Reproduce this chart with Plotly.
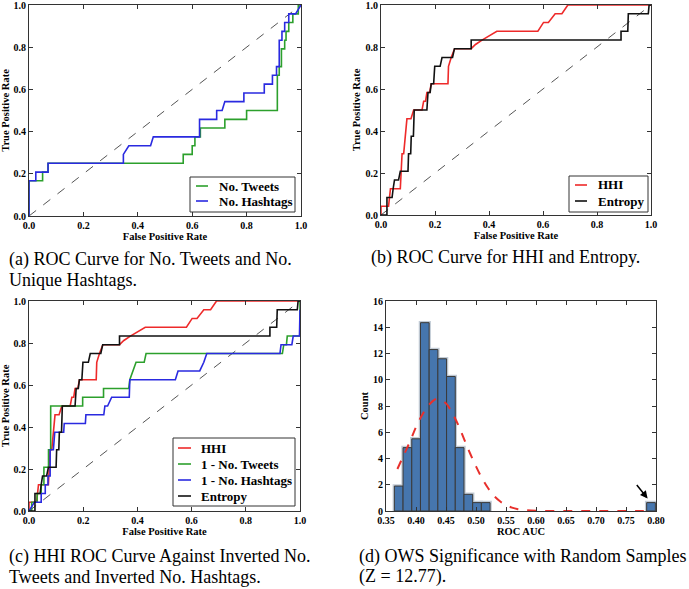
import plotly.graph_objects as go

W, H = 689, 589

# ---------------- data ----------------
chance = [0.0, 1.0]

# (a) ROC: No. Tweets (green) and No. Hashtags (blue)
a_tweets_fpr = [0, 0, 0.05, 0.05, 0.07, 0.07, 0.567, 0.567, 0.6, 0.6, 0.61, 0.61,
                0.63, 0.63, 0.72, 0.72, 0.8, 0.8, 0.913, 0.913, 0.92, 0.92, 0.928, 0.928,
                0.94, 0.94, 0.945, 0.945, 0.955, 0.955, 0.97, 0.97, 0.99, 0.99, 1.0]
a_tweets_tpr = [0, 0.167, 0.167, 0.208, 0.208, 0.25, 0.25, 0.292, 0.292, 0.333, 0.333, 0.375,
                0.375, 0.417, 0.417, 0.458, 0.458, 0.5, 0.5, 0.667, 0.667, 0.708, 0.708, 0.792,
                0.792, 0.833, 0.833, 0.875, 0.875, 0.917, 0.917, 0.958, 0.958, 1.0, 1.0]
a_hash_fpr = [0, 0, 0.025, 0.025, 0.07, 0.07, 0.347, 0.347, 0.367, 0.447, 0.457, 0.627,
              0.627, 0.69, 0.69, 0.71, 0.72, 0.79, 0.79, 0.865, 0.865, 0.895, 0.895, 0.91,
              0.91, 0.92, 0.92, 0.93, 0.93, 0.94, 0.94, 0.955, 0.955, 0.98, 1.0]
a_hash_tpr = [0, 0.167, 0.167, 0.208, 0.208, 0.25, 0.25, 0.292, 0.333, 0.333, 0.375, 0.375,
              0.458, 0.458, 0.5, 0.5, 0.542, 0.542, 0.583, 0.583, 0.625, 0.625, 0.667, 0.667,
              0.708, 0.708, 0.833, 0.833, 0.875, 0.875, 0.917, 0.917, 0.958, 0.958, 1.0]

# (b)/(c) ROC: HHI (red) and Entropy (black)
hhi_fpr = [0, 0, 0.028, 0.035, 0.0715, 0.078, 0.084, 0.0875, 0.096, 0.111, 0.121, 0.152,
           0.158, 0.165, 0.17, 0.18, 0.186, 0.248, 0.25, 0.26, 0.2725, 0.334, 0.35, 0.374,
           0.429, 0.581, 0.602, 0.62, 0.645, 0.67, 0.692, 1.0]
hhi_tpr = [0, 0.042, 0.042, 0.125, 0.125, 0.292, 0.292, 0.333, 0.458, 0.458, 0.5, 0.5,
           0.542, 0.542, 0.583, 0.583, 0.625, 0.625, 0.708, 0.75, 0.792, 0.792, 0.812, 0.833,
           0.875, 0.875, 0.917, 0.917, 0.958, 0.958, 1.0, 1.0]
ent_fpr = [0, 0.022, 0.022, 0.041, 0.045, 0.05, 0.065, 0.0715, 0.1, 0.102, 0.11, 0.112,
           0.12, 0.123, 0.17, 0.174, 0.182, 0.186, 0.195, 0.199, 0.219, 0.226, 0.265, 0.272,
           0.334, 0.334, 0.889, 0.889, 0.914, 0.916, 0.99, 0.993, 1.0]
ent_tpr = [0, 0, 0.083, 0.083, 0.125, 0.167, 0.167, 0.208, 0.208, 0.292, 0.292, 0.375,
           0.375, 0.5, 0.5, 0.583, 0.583, 0.625, 0.625, 0.708, 0.708, 0.75, 0.75, 0.792,
           0.792, 0.833, 0.833, 0.875, 0.875, 0.958, 0.958, 1.0, 1.0]

# (c) ROC: 1 - No. Tweets (green), 1 - No. Hashtags (blue)
c_tweets_fpr = [0, 0.01, 0.01, 0.03, 0.03, 0.045, 0.045, 0.055, 0.055, 0.072, 0.072, 0.08,
                0.08, 0.198, 0.198, 0.275, 0.275, 0.368, 0.372, 0.385, 0.395, 0.425, 0.432, 0.935,
                0.94, 0.95, 0.953, 1.0, 1.0]
c_tweets_tpr = [0, 0, 0.042, 0.042, 0.083, 0.083, 0.125, 0.125, 0.208, 0.208, 0.292, 0.292,
                0.5, 0.5, 0.542, 0.542, 0.583, 0.583, 0.625, 0.667, 0.708, 0.708, 0.75, 0.75,
                0.792, 0.792, 0.833, 0.833, 1.0]
c_hash_fpr = [0, 0.02, 0.045, 0.045, 0.06, 0.06, 0.07, 0.07, 0.078, 0.078, 0.09, 0.095,
              0.128, 0.13, 0.208, 0.21, 0.276, 0.28, 0.29, 0.305, 0.37, 0.372, 0.54, 0.55,
              0.63, 0.645, 0.656, 0.926, 0.93, 0.97, 0.975, 0.998, 1.0]
c_hash_tpr = [0, 0.042, 0.042, 0.083, 0.083, 0.125, 0.125, 0.167, 0.167, 0.292, 0.292, 0.375,
              0.375, 0.417, 0.417, 0.458, 0.458, 0.5, 0.5, 0.542, 0.542, 0.625, 0.625, 0.667,
              0.667, 0.708, 0.75, 0.75, 0.792, 0.792, 0.833, 0.833, 0.958]

# (d) histogram of ROC AUC from random samples
auc_bin_centers = [0.3712, 0.3857, 0.4002, 0.4147, 0.4292, 0.4437, 0.4582, 0.4727,
                   0.4872, 0.5017, 0.5162, 0.7917]
auc_density = [1.9, 4.83, 5.5, 14.35, 12.3, 11.6, 10.25, 4.83, 1.27, 0.64, 0.64, 0.64]
auc_bin_width = 0.0145
fit_x = [0.369, 0.38, 0.39, 0.40, 0.41, 0.42, 0.43, 0.436, 0.45, 0.46, 0.47, 0.48, 0.49,
         0.50, 0.51, 0.52, 0.53, 0.54, 0.55, 0.56, 0.57, 0.58, 0.60, 0.65, 0.70, 0.75, 0.79]
fit_y = [3.2, 4.3, 5.3, 6.4, 7.3, 8.0, 8.45, 8.55, 8.2, 7.5, 6.6, 5.5, 4.4, 3.4, 2.5,
         1.75, 1.15, 0.74, 0.45, 0.26, 0.14, 0.07, 0.02, 0, 0, 0, 0]
ows_auc = 0.786

roc_ticks = [0.0, 0.2, 0.4, 0.6, 0.8, 1.0]
auc_ticks = [0.35, 0.40, 0.45, 0.50, 0.55, 0.60, 0.65, 0.70, 0.75, 0.80]
count_ticks = [0, 2, 4, 6, 8, 10, 12, 14, 16]

caption_a = ["(a) ROC Curve for No. Tweets and No.", "Unique Hashtags."]
caption_b = ["(b) ROC Curve for HHI and Entropy."]
caption_c = ["(c) HHI ROC Curve Against Inverted No.", "Tweets and Inverted No. Hashtags."]
caption_d = ["(d) OWS Significance with Random Samples", "(Z = 12.77)."]

# ---------------- styling ----------------
SERIF = "Liberation Serif, Times New Roman, DejaVu Serif, serif"
GREEN, BLUE, RED, BLACK = "#2ca02c", "#2a2ae0", "#ee2a2a", "#111111"
LW = 1.6
FRAME = "#333333"

fig = go.Figure()

def line(x, y, color, name, xa, ya):
    fig.add_trace(go.Scatter(x=x, y=y, mode="lines", name=name,
                             line=dict(color=color, width=LW),
                             xaxis=xa, yaxis=ya, showlegend=False))

def diag(xa, ya):
    fig.add_trace(go.Scatter(x=chance, y=chance, mode="lines",
                             line=dict(color="#555555", width=1, dash="dash"),
                             xaxis=xa, yaxis=ya, showlegend=False, hoverinfo="skip"))

legend_a = [("No. Tweets", GREEN), ("No. Hashtags", BLUE)]
legend_b = [("HHI", RED), ("Entropy", BLACK)]
legend_c = [("HHI", RED), ("1 - No. Tweets", GREEN), ("1 - No. Hashtags", BLUE), ("Entropy", BLACK)]

# (a)
diag("x", "y")
line(a_tweets_fpr, a_tweets_tpr, GREEN, legend_a[0][0], "x", "y")
line(a_hash_fpr, a_hash_tpr, BLUE, legend_a[1][0], "x", "y")
# (b)
diag("x2", "y2")
line(hhi_fpr, hhi_tpr, RED, "HHI", "x2", "y2")
line(ent_fpr, ent_tpr, BLACK, "Entropy", "x2", "y2")
# (c)
diag("x3", "y3")
line(hhi_fpr, hhi_tpr, RED, "HHI", "x3", "y3")
line(c_tweets_fpr, c_tweets_tpr, GREEN, "1 - No. Tweets", "x3", "y3")
line(c_hash_fpr, c_hash_tpr, BLUE, "1 - No. Hashtags", "x3", "y3")
line(ent_fpr, ent_tpr, BLACK, "Entropy", "x3", "y3")
# (d)
fig.add_trace(go.Bar(x=auc_bin_centers, y=auc_density, width=auc_bin_width,
                     marker=dict(color="#c3ccd6", line=dict(color="#c3ccd6", width=3.5)),
                     xaxis="x4", yaxis="y4", showlegend=False))
fig.add_trace(go.Bar(x=auc_bin_centers, y=auc_density, width=auc_bin_width,
                     marker=dict(color="#4676ae", line=dict(color="#3a3a3a", width=1)),
                     xaxis="x4", yaxis="y4", showlegend=False))
fig.add_trace(go.Scatter(x=fit_x, y=fit_y, mode="lines",
                         line=dict(color="#e8302c", width=2, dash="dash", shape="spline"),
                         xaxis="x4", yaxis="y4", showlegend=False))

tickfont = dict(family=SERIF, size=10, color="black", weight="bold")
titlefont = dict(family=SERIF, size=10.5, color="black", weight="bold")

def axis(domain, rng, tickvals, fmt, title, anchor, standoff):
    return dict(domain=domain, range=rng, tickvals=tickvals, tickformat=fmt,
                showline=True, linecolor=FRAME, linewidth=1, mirror="ticks",
                ticks="inside", ticklen=4, tickcolor=FRAME, tickwidth=1,
                showgrid=False, zeroline=False, tickfont=tickfont, automargin=False,
                ticklabeloverflow="allow",
                title=dict(text=title, font=titlefont, standoff=standoff),
                anchor=anchor, fixedrange=True)

def xd(l, r):
    return [l / W, r / W]

def yd(top, bottom):
    return [1 - bottom / H, 1 - top / H]

fig.update_layout(
    width=W, height=H, margin=dict(l=0, r=0, t=0, b=0, autoexpand=False),
    paper_bgcolor="white", plot_bgcolor="white",
    barmode="overlay", bargap=0, showlegend=False,
    xaxis=axis(xd(29, 301), [0, 1], roc_ticks, ".1f", "False Positive Rate", "y", 2),
    yaxis=axis(yd(5, 216), [0, 1], roc_ticks, ".1f", "True Positive Rate", "x", 2),
    xaxis2=axis(xd(381, 651), [0, 1], roc_ticks, ".1f", "False Positive Rate", "y2", 2),
    yaxis2=axis(yd(5, 215), [0, 1], roc_ticks, ".1f", "True Positive Rate", "x2", 2),
    xaxis3=axis(xd(29, 300), [0, 1], roc_ticks, ".1f", "False Positive Rate", "y3", 2),
    yaxis3=axis(yd(301, 511), [0, 1], roc_ticks, ".1f", "True Positive Rate", "x3", 2),
    xaxis4=axis(xd(386, 656), [0.35, 0.80], auc_ticks, ".2f", "ROC AUC", "y4", 2),
    yaxis4=axis(yd(301, 511), [0, 16], count_ticks, "d", "Count", "x4", 2),
)

# ---- legends (boxed, drawn in figure pixel layout) ----
def px(x):
    return x / W

def py(y):
    return 1 - y / H

def draw_legend(entries, box, rows, line_x, text_x):
    x0, y0, x1, y1 = box
    fig.add_shape(type="rect", xref="paper", yref="paper", x0=px(x0), x1=px(x1),
                  y0=py(y1), y1=py(y0), line=dict(color="#333333", width=1),
                  fillcolor="white", layer="above")
    for (name, color), ry in zip(entries, rows):
        fig.add_shape(type="line", xref="paper", yref="paper", x0=px(line_x[0]), x1=px(line_x[1]),
                      y0=py(ry), y1=py(ry), line=dict(color=color, width=LW), layer="above")
        fig.add_annotation(text=name, xref="paper", yref="paper", x=px(text_x), y=py(ry),
                           xanchor="left", yanchor="middle", showarrow=False,
                           font=dict(family=SERIF, size=13, color="black", weight="bold"))

draw_legend(legend_a, (190, 177, 295, 212), [186, 201], (196, 208), 217)
draw_legend(legend_b, (569, 176, 648, 212), [185, 201], (575, 587), 596)
draw_legend(legend_c, (173, 438, 295, 506), [448, 464, 480, 496], (178, 191), 199)

# ---- captions ----
for lines, x, ys in [(caption_a, 7, [259, 280]), (caption_b, 369, [257]),
                     (caption_c, 7, [556, 577]), (caption_d, 357, [556, 576])]:
    for text, y in zip(lines, ys):
        fig.add_annotation(text=text, xref="paper", yref="paper", x=px(x), y=py(y),
                           xanchor="left", yanchor="middle", showarrow=False,
                           font=dict(family=SERIF, size=18, color="black"))

fig.add_annotation(x=ows_auc, y=0.95, xref="x4", yref="y4", ax=0.766, ay=2.1,
                   axref="x4", ayref="y4", text="", showarrow=True, arrowhead=2,
                   arrowsize=1, arrowwidth=1.5, arrowcolor="black")

fig.write_html("out.html", config={"displayModeBar": False, "staticPlot": True},
               post_script="document.body.style.margin='0px';document.body.style.overflow='hidden';")
